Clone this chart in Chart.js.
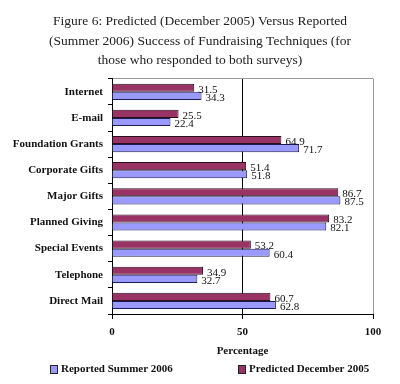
<!DOCTYPE html>
<html>
<head>
<meta charset="utf-8">
<script src="https://cdn.jsdelivr.net/npm/chart.js@4/dist/chart.umd.min.js"></script>
<style>
  body { margin: 0; background: #fff; }
  #wrap { width: 400px; height: 384px; }
</style>
</head>
<body>
<div id="wrap"><canvas id="chart" width="400" height="384"></canvas></div>
<script>
// Data
const techniques = ['Internet', 'E-mail', 'Foundation Grants', 'Corporate Gifts', 'Major Gifts',
                    'Planned Giving', 'Special Events', 'Telephone', 'Direct Mail'];
const predicted = [31.5, 25.5, 64.9, 51.4, 86.7, 83.2, 53.2, 34.9, 60.7];
const reported = [34.3, 22.4, 71.7, 51.8, 87.5, 82.1, 60.4, 32.7, 62.8];
const titleLines = [
    'Figure 6: Predicted (December 2005) Versus Reported',
    '(Summer 2006) Success of Fundraising Techniques (for',
    'those who responded to both surveys)'
];

const SERIF = '"Liberation Serif", "Times New Roman", serif';
const MAROON = '#993366';
const LILAC = '#9999ff';

// value labels at the end of every bar
const valueLabels = {
    id: 'valueLabels',
    afterDatasetsDraw(chart) {
        const ctx = chart.ctx;
        ctx.save();
        ctx.font = '11px ' + SERIF;
        ctx.fillStyle = '#111';
        ctx.textAlign = 'left';
        ctx.textBaseline = 'middle';
        chart.data.datasets.forEach((ds, i) => {
            chart.getDatasetMeta(i).data.forEach((bar, j) => {
                ctx.fillText(ds.data[j].toFixed(1), bar.x + 4, bar.y + 2);
            });
        });
        ctx.restore();
    }
};

// legend drawn by hand so the two items can sit far apart
const bottomLegend = {
    id: 'bottomLegend',
    afterDraw(chart) {
        const ctx = chart.ctx;
        const items = [
            { ds: 1, x: 50 },
            { ds: 0, x: 238 }
        ];
        ctx.save();
        ctx.font = 'bold 11px ' + SERIF;
        ctx.textBaseline = 'middle';
        items.forEach(it => {
            const ds = chart.data.datasets[it.ds];
            ctx.fillStyle = ds.backgroundColor;
            ctx.fillRect(it.x, 365, 7, 8);
            ctx.strokeStyle = '#222';
            ctx.lineWidth = 1;
            ctx.strokeRect(it.x + 0.5, 365.5, 7, 8);
            ctx.fillStyle = '#111';
            ctx.fillText(ds.label, it.x + 11, 369.5);
        });
        ctx.restore();
    }
};

new Chart(document.getElementById('chart'), {
    type: 'bar',
    data: {
        labels: techniques,
        datasets: [
            {
                label: 'Predicted December 2005',
                data: predicted,
                backgroundColor: MAROON,
                borderColor: '#2a0f1c',
                borderWidth: 1,
                categoryPercentage: 0.62,
                barPercentage: 1.0
            },
            {
                label: 'Reported Summer 2006',
                data: reported,
                backgroundColor: LILAC,
                borderColor: '#1c1c55',
                borderWidth: 1,
                categoryPercentage: 0.62,
                barPercentage: 1.0
            }
        ]
    },
    options: {
        indexAxis: 'y',
        responsive: false,
        animation: false,
        layout: {
            padding: { top: 0, left: 0, right: 0, bottom: 22 }
        },
        scales: {
            x: {
                min: 0,
                max: 100,
                afterFit: scale => {
                    scale.height = 48;
                    scale.paddingRight = 27; // keeps the plot off the right edge, title stays centred
                },
                ticks: {
                    stepSize: 50,
                    padding: 7,
                    color: '#111',
                    font: { family: SERIF, size: 11, weight: 'bold' }
                },
                grid: {
                    color: c => (c.tick && c.tick.value === 100) ? '#9a9a9a' : '#000',
                    tickColor: '#000',
                    tickLength: 5,
                    lineWidth: 1
                },
                border: { display: true, color: '#000' },
                title: {
                    display: true,
                    text: 'Percentage',
                    color: '#111',
                    padding: { top: 0, bottom: 4 },
                    font: { family: SERIF, size: 11, weight: 'bold' }
                }
            },
            y: {
                afterFit: scale => { scale.width = 112; },
                ticks: {
                    padding: 5,
                    color: '#111',
                    font: { family: SERIF, size: 11, weight: 'bold' }
                },
                grid: {
                    offset: true,
                    color: c => c.index === 0 ? '#9a9a9a' : 'rgba(0,0,0,0)',
                    tickColor: '#000',
                    tickLength: 4
                },
                border: { display: true, color: '#000' }
            }
        },
        plugins: {
            legend: { display: false },
            tooltip: { enabled: false },
            title: {
                display: true,
                text: titleLines,
                color: '#222',
                padding: { top: 12, bottom: 8 },
                font: { family: SERIF, size: 13.5, weight: 'normal', lineHeight: 1.45 }
            }
        }
    },
    plugins: [valueLabels, bottomLegend]
});
</script>
</body>
</html>
